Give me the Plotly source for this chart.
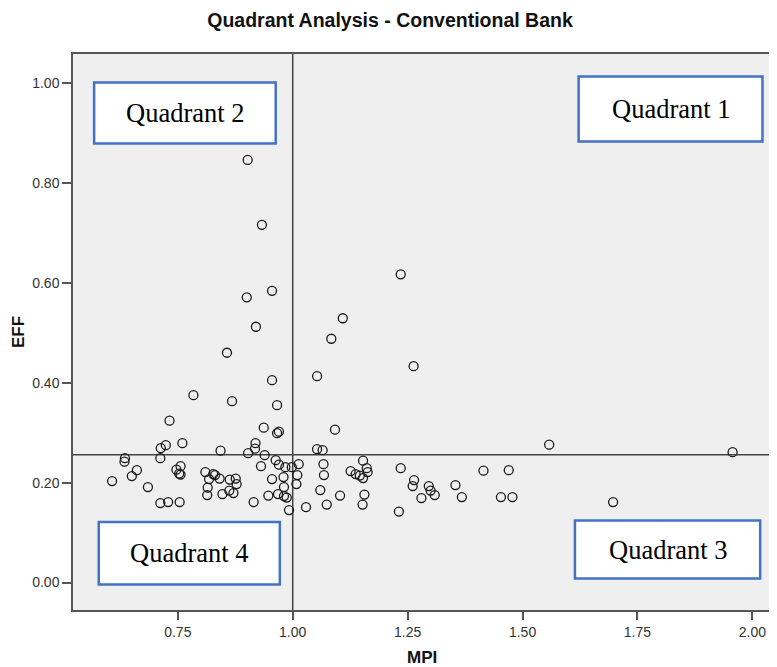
import plotly.graph_objects as go

# ---- data ----
mpi = [
    0.902, 0.933, 0.900, 0.955, 0.920, 0.857, 0.955, 0.784, 0.868, 0.966,
    0.732, 0.937, 0.966, 0.970, 0.760, 0.724, 0.713, 0.919, 0.918, 0.903,
    0.843, 0.635, 0.634, 0.712, 0.939, 0.963, 0.970, 0.984, 0.998, 1.013,
    0.931, 0.661, 0.650, 0.607, 0.685, 0.747, 0.756, 0.756, 0.753, 0.810,
    0.827, 0.831, 0.818, 0.841, 0.863, 0.876, 0.878, 0.815, 0.814, 0.862,
    0.871, 0.847, 0.712, 0.729, 0.754, 0.915, 0.955, 0.980, 0.981, 1.010,
    1.008, 0.947, 0.968, 0.981, 0.987, 0.992, 1.029,
    1.235, 1.109, 1.084, 1.053, 1.263, 1.092, 1.053, 1.065, 1.067, 1.068,
    1.153, 1.161, 1.163, 1.126, 1.137, 1.146, 1.153, 1.235, 1.264, 1.261,
    1.296, 1.300, 1.309, 1.280, 1.354, 1.368, 1.415, 1.470, 1.453, 1.478,
    1.060, 1.103, 1.156, 1.152, 1.074, 1.231, 1.558, 1.957, 1.697,
]
eff = [
    0.846, 0.716, 0.571, 0.584, 0.512, 0.460, 0.405, 0.375, 0.363, 0.355,
    0.324, 0.310, 0.299, 0.302, 0.279, 0.275, 0.269, 0.279, 0.268, 0.259,
    0.264, 0.249, 0.242, 0.249, 0.255, 0.245, 0.236, 0.231, 0.231, 0.237,
    0.233, 0.225, 0.213, 0.203, 0.191, 0.226, 0.233, 0.216, 0.218, 0.221,
    0.217, 0.215, 0.207, 0.208, 0.206, 0.208, 0.197, 0.190, 0.175, 0.184,
    0.179, 0.177, 0.159, 0.161, 0.161, 0.161, 0.207, 0.211, 0.191, 0.215,
    0.197, 0.174, 0.177, 0.173, 0.170, 0.145, 0.151,
    0.617, 0.529, 0.488, 0.413, 0.433, 0.306, 0.267, 0.265, 0.237, 0.215,
    0.244, 0.229, 0.221, 0.223, 0.217, 0.214, 0.209, 0.229, 0.205, 0.193,
    0.193, 0.184, 0.175, 0.169, 0.195, 0.171, 0.224, 0.225, 0.171, 0.171,
    0.185, 0.174, 0.176, 0.156, 0.156, 0.142, 0.276, 0.261, 0.161,
]
mpi_ref = 1.0
eff_ref = 0.256
x_ticks = [0.75, 1.00, 1.25, 1.50, 1.75, 2.00]
y_ticks = [0.00, 0.20, 0.40, 0.60, 0.80, 1.00]
quad_labels = ["Quadrant 1", "Quadrant 2", "Quadrant 3", "Quadrant 4"]
# box extents in data units (x0, x1, y0, y1)
quad_boxes = [
    (1.622, 2.022, 0.883, 1.013),
    (0.568, 0.963, 0.879, 1.001),
    (1.614, 2.017, 0.008, 0.124),
    (0.578, 0.972, -0.004, 0.121),
]

fig = go.Figure()
fig.add_trace(go.Scatter(
    x=mpi, y=eff, mode="markers",
    marker=dict(symbol="circle-open", size=9, color="#1a1a1a",
                line=dict(width=1.3, color="#1a1a1a")),
    showlegend=False, hoverinfo="x+y",
))

shapes = [
    dict(type="line", xref="x", yref="paper", x0=mpi_ref, x1=mpi_ref, y0=0, y1=1,
         line=dict(color="#444", width=1.5), layer="below"),
    dict(type="line", xref="paper", yref="y", x0=0, x1=1, y0=eff_ref, y1=eff_ref,
         line=dict(color="#444", width=1.5), layer="below"),
]
annotations = []
for lab, (x0, x1, y0, y1) in zip(quad_labels, quad_boxes):
    shapes.append(dict(type="rect", xref="x", yref="y", x0=x0, x1=x1, y0=y0, y1=y1,
                       fillcolor="white", line=dict(color="#4472c4", width=2.5),
                       layer="above"))
    annotations.append(dict(x=(x0 + x1) / 2, y=(y0 + y1) / 2, xref="x", yref="y",
                            text=lab, showarrow=False, xanchor="center", yanchor="middle",
                            font=dict(family="Liberation Serif", size=26.5, color="black")))

# page body has an 8px default margin; figure sized/offset to compensate
annotations.append(dict(text="<b>MPI</b>", x=0.496, y=-0.085, xref="paper", yref="paper",
                        xanchor="center", yanchor="middle", showarrow=False,
                        font=dict(family="Liberation Sans", size=17, color="#111")))
annotations.append(dict(text="<b>EFF</b>", x=-0.078, y=0.50, xref="paper", yref="paper",
                        xanchor="center", yanchor="middle", textangle=-90, showarrow=False,
                        font=dict(family="Liberation Sans", size=17, color="#111")))

fig.update_layout(
    width=769, height=659,
    margin=dict(l=65, r=0, t=46, b=57),
    paper_bgcolor="white", plot_bgcolor="#efefef",
    title=dict(text="<b>Quadrant Analysis - Conventional Bank</b>", x=(390 - 8) / 769, xref="container",
               y=1 - 12.5 / 659, yref="container", yanchor="middle", xanchor="center",
               font=dict(family="Liberation Sans", size=19.5, color="#111")),
    shapes=shapes, annotations=annotations,
    xaxis=dict(range=[0.522, 2.0536], tickvals=x_ticks,
               ticktext=[f"{v:.2f}" for v in x_ticks],
               showgrid=False, zeroline=False, showline=True, linecolor="#555", linewidth=1.5,
               mirror=True, ticks="outside", ticklen=8, tickwidth=1.5, tickcolor="#555",
               tickfont=dict(family="Liberation Sans", size=14, color="#333")),
    yaxis=dict(range=[-0.055, 1.058], tickvals=y_ticks,
               ticktext=[f"{v:.2f}" for v in y_ticks],
               showgrid=False, zeroline=False, showline=True, linecolor="#555", linewidth=1.5,
               ticks="outside", ticklen=9, tickwidth=1.5, tickcolor="#555",
               tickfont=dict(family="Liberation Sans", size=14, color="#333")),
)

fig.write_html("out.html")
